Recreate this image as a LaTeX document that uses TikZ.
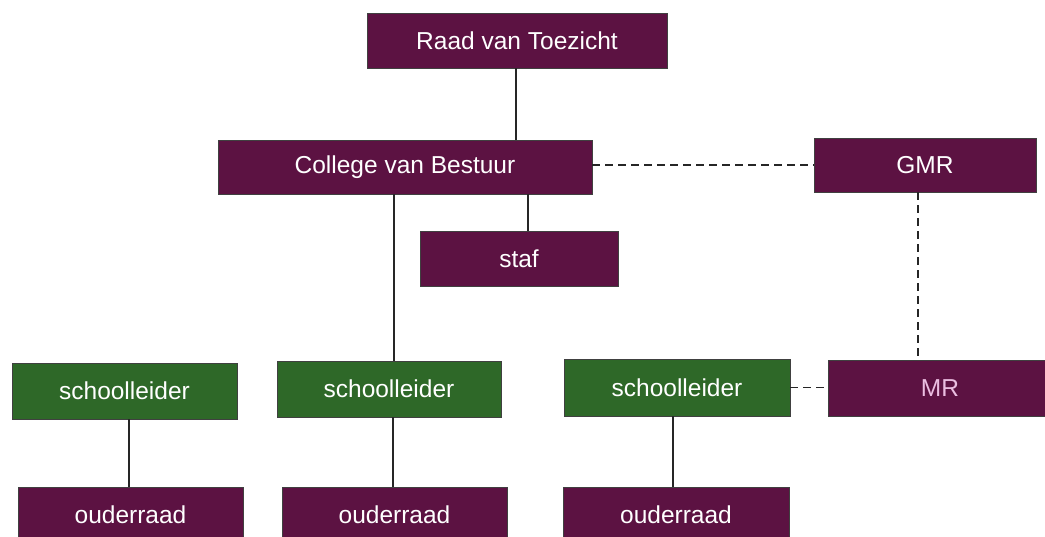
\documentclass[tikz,border=0pt]{standalone}
\usepackage{fontspec}
\setmainfont{Liberation Sans}
\definecolor{purp}{RGB}{92,18,66}
\definecolor{grn}{RGB}{46,104,40}
\definecolor{mrtext}{RGB}{235,190,225}
\begin{document}
\begin{tikzpicture}[x=1pt,y=-1pt,
  box/.style={rectangle,draw=black!75,line width=0.9pt,fill=purp,text=white,
    font=\fontsize{24.5}{28}\selectfont,inner sep=0pt},
  gbox/.style={box,fill=grn},
  link/.style={line width=1.5pt,draw=black!85},
  dlink/.style={link,dash pattern=on 8pt off 5pt}]
\useasboundingbox[fill=white] (0,0) rectangle (1045,536);
\node[box,minimum width=300,minimum height=55] (raad) at (517,40.5) {Raad van Toezicht};
\node[box,minimum width=374,minimum height=54] (cvb) at (405,167) {College van Bestuur};
\node[box,minimum width=222,minimum height=54] (gmr) at (925,165) {GMR};
\node[box,minimum width=198,minimum height=55] (staf) at (519,258.5) {staf};
\node[gbox,minimum width=225,minimum height=56] (sl1) at (124.5,391) {schoolleider};
\node[gbox,minimum width=224,minimum height=56] (sl2) at (389,389) {schoolleider};
\node[gbox,minimum width=226,minimum height=57] (sl3) at (677,387.5) {schoolleider};
\node[box,text=mrtext,minimum width=224,minimum height=56] (mr) at (940,388) {MR};
\node[box,minimum width=225,minimum height=60] (ou1) at (130.5,517) {\raisebox{4pt}{ouderraad}};
\node[box,minimum width=225,minimum height=60] (ou2) at (394.5,517) {\raisebox{4pt}{ouderraad}};
\node[box,minimum width=226,minimum height=60] (ou3) at (676,517) {\raisebox{4pt}{ouderraad}};
% connectors
\draw[link] ([xshift=-1]raad.south) -- ([xshift=-1]raad.south |- cvb.north);
\draw[link] ([xshift=9]staf.north |- cvb.south) -- ([xshift=9]staf.north);
\draw[link] ([xshift=5]sl2.north |- cvb.south) -- ([xshift=5]sl2.north);
\draw[dlink] (cvb.east |- gmr.west) -- (gmr.west);
\draw[dlink] ([xshift=-7]gmr.south) -- ([xshift=-7]gmr.south |- mr.north);
\draw[dlink] (sl3.east) -- (sl3.east -| mr.west);
\draw[link] ([xshift=-1.5]ou1.north |- sl1.south) -- ([xshift=-1.5]ou1.north);
\draw[link] ([xshift=-1.5]ou2.north |- sl2.south) -- ([xshift=-1.5]ou2.north);
\draw[link] ([xshift=-3]ou3.north |- sl3.south) -- ([xshift=-3]ou3.north);
\end{tikzpicture}
\end{document}
